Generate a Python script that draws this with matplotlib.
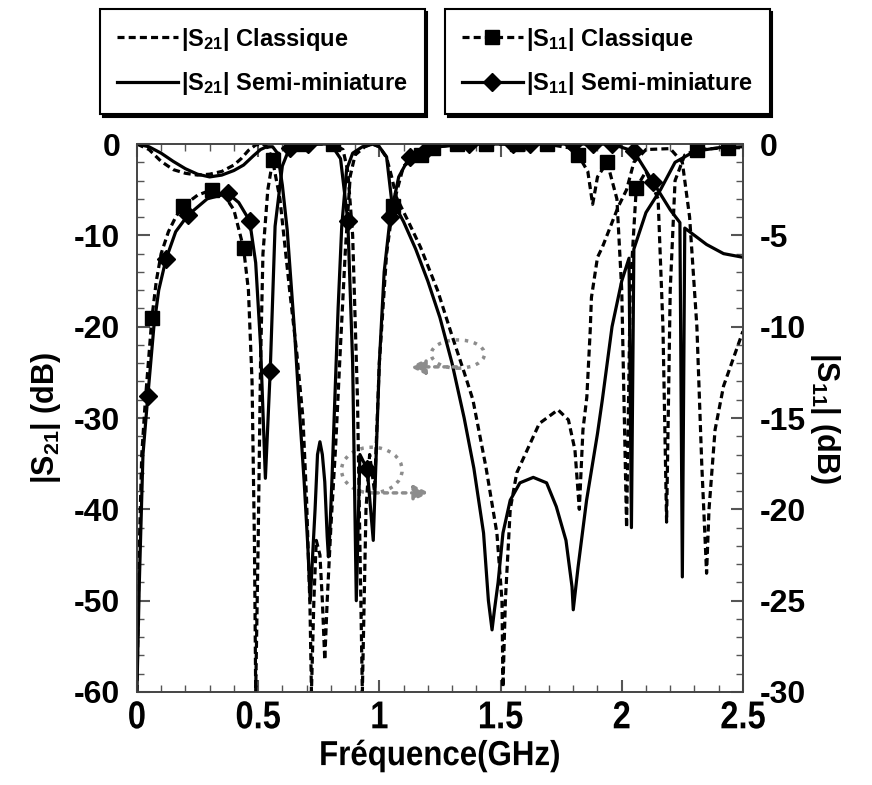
import matplotlib
matplotlib.use('Agg')
import numpy as np
import matplotlib.pyplot as plt
from matplotlib.patches import Ellipse
from matplotlib.patheffects import AbstractPathEffect
from matplotlib.transforms import Affine2D

plt.rcParams['font.family'] = ['Liberation Sans', 'DejaVu Sans']
plt.rcParams['font.weight'] = 'bold'
plt.rcParams['axes.labelweight'] = 'bold'
plt.rcParams['axes.unicode_minus'] = False
plt.rcParams['mathtext.fontset'] = 'custom'
plt.rcParams['mathtext.rm'] = 'Liberation Sans:bold'
plt.rcParams['mathtext.bf'] = 'Liberation Sans:bold'
plt.rcParams['mathtext.default'] = 'bf'


class Etroit(AbstractPathEffect):
    # compresse le texte horizontalement (police "narrow" de l'original)
    def __init__(self, sx=0.85):
        super().__init__()
        self.sx = sx

    def draw_path(self, renderer, gc, tpath, affine, rgbFace=None):
        bb = tpath.get_extents(affine)
        cx = 0.5 * (bb.x0 + bb.x1)
        aff = affine + Affine2D().translate(-cx, 0).scale(self.sx, 1).translate(cx, 0)
        renderer.draw_path(gc, tpath, aff, rgbFace)


# ---- |S21| (axe gauche, dB) ----
s21_cl_f = [0.0, 0.05, 0.10, 0.15, 0.20, 0.25, 0.30, 0.35, 0.40, 0.43, 0.46, 0.49, 0.52, 0.54, 0.56,
            0.59, 0.63, 0.66, 0.685, 0.70, 0.714, 0.72, 0.73, 0.74, 0.755, 0.765, 0.775, 0.785, 0.80,
            0.82, 0.84, 0.86, 0.88, 0.90, 0.94, 0.97, 1.00, 1.03, 1.05, 1.07, 1.12, 1.17, 1.24, 1.30,
            1.35, 1.386, 1.44, 1.485, 1.506, 1.51, 1.52, 1.54, 1.567, 1.61, 1.66, 1.737, 1.78, 1.807,
            1.825, 1.84, 1.856, 1.87, 1.875, 1.90, 1.92, 1.985, 2.02, 2.05, 2.10, 2.20, 2.25, 2.28,
            2.31, 2.33, 2.35, 2.36, 2.385, 2.42, 2.46, 2.50]
s21_cl_db = [0, -0.6, -1.9, -2.8, -3.2, -3.4, -3.3, -3.0, -2.3, -1.6, -0.7, -0.1, 0, -0.4, -1.8,
             -6, -16, -23, -30, -39, -50.7, -60, -50, -43.4, -45, -50, -56.5, -50, -42,
             -33, -22, -11.6, -3.5, -1.2, -0.3, 0, -0.3, -1.5, -3.5, -5.8, -8.5, -11.3, -16, -21,
             -25, -28, -35.4, -42.6, -50, -59.5, -50, -40, -36, -33.5, -30.6, -29.1, -30.2, -33.5,
             -40, -31.3, -27.7, -20.4, -16.8, -12.4, -11.3, -6.9, -5, -2, -0.6, -0.5, -2, -8,
             -20, -35, -47, -40, -31.3, -26.5, -23.5, -20.5]

s21_sm_f = [0.0, 0.05, 0.10, 0.15, 0.20, 0.25, 0.30, 0.35, 0.40, 0.44, 0.48, 0.51, 0.535, 0.56, 0.58,
            0.60, 0.62, 0.65, 0.67, 0.69, 0.705, 0.715, 0.725, 0.735, 0.745, 0.755, 0.765, 0.775,
            0.785, 0.79, 0.795, 0.805, 0.815, 0.83, 0.845, 0.865, 0.89, 0.93, 0.975, 1.00, 1.03,
            1.05, 1.10, 1.15, 1.20, 1.25, 1.30, 1.35, 1.39, 1.43, 1.45, 1.465, 1.475, 1.49, 1.51,
            1.54, 1.58, 1.635, 1.69, 1.73, 1.77, 1.795, 1.80, 1.82, 1.855, 1.90, 1.92, 1.96, 2.00,
            2.03, 2.04, 2.05, 2.10, 2.16, 2.22, 2.30, 2.40, 2.50]
s21_sm_db = [0, -0.3, -1.0, -1.9, -2.7, -3.3, -3.6, -3.4, -2.9, -2.3, -1.3, -0.6, -0.3, -0.3, -1.0,
             -4.5, -9.4, -20.4, -29, -37, -44, -50, -45, -40, -34, -32.6, -34, -37,
             -43, -45.2, -43, -36.5, -29, -18, -9, -2.8, -1.0, -0.3, 0, -0.3, -1.4,
             -6, -8.5, -11.5, -15, -19, -24, -30, -35.5, -42.6, -50, -53.2, -51, -48, -42.6,
             -39, -37.1, -36.5, -37.1, -39.7, -43.4, -48.5, -51, -46.3, -39, -31.7, -28, -20, -15,
             -12.5, -42, -11.5, -7.5, -5, -2, -0.8, -0.4, -0.3]

# ---- |S11| (axe droit, dB) ----
s11_cl_f = [0.0, 0.01, 0.02, 0.035, 0.05, 0.062, 0.08, 0.10, 0.13, 0.16, 0.19, 0.25, 0.31, 0.36,
            0.40, 0.44, 0.46, 0.475, 0.485, 0.49, 0.50, 0.51, 0.52, 0.54, 0.56, 0.60, 0.685, 0.81,
            0.85, 0.87, 0.89, 0.91, 0.93, 0.945, 0.96, 0.98, 1.00, 1.03, 1.056, 1.10, 1.17, 1.22,
            1.32, 1.44, 1.57, 1.69, 1.78, 1.82, 1.86, 1.88, 1.90, 1.94, 1.98, 2.00, 2.02, 2.035,
            2.06, 2.10, 2.15, 2.17, 2.185, 2.20, 2.22, 2.26, 2.31, 2.44, 2.50]
s11_cl_db = [-30, -22, -17, -14, -11.5, -9.5, -7.5, -6, -4.8, -4, -3.4, -2.8, -2.5, -2.8,
             -3.6, -5.7, -8, -13, -22, -30, -22, -12, -6, -2.5, -0.9, -0.3, 0, 0,
             -0.3, -1.5, -5, -14, -30, -20, -17, -19, -12, -6, -3.4, -1.2, -0.6, -0.2,
             0, 0, 0, 0, -0.2, -0.6, -1.5, -3.3, -1.8, -1.0, -3, -8, -21, -8,
             -2.4, -1.5, -3, -10, -20.7, -8, -2, -0.6, -0.3, -0.2, -0.2]
s11_cl_mk = [0.062, 0.19, 0.31, 0.44, 0.56, 0.685, 0.81, 1.056, 1.17, 1.22, 1.32, 1.44, 1.57,
             1.69, 1.82, 1.94, 2.06, 2.31, 2.44]

s11_sm_f = [0.0, 0.01, 0.025, 0.045, 0.07, 0.09, 0.12, 0.16, 0.21, 0.29, 0.375, 0.42, 0.465,
            0.49, 0.51, 0.53, 0.55, 0.57, 0.60, 0.63, 0.705, 0.80, 0.84, 0.87, 0.89, 0.905, 0.92,
            0.95, 0.975, 1.00, 1.02, 1.045, 1.08, 1.125, 1.20, 1.37, 1.55, 1.62, 1.80, 1.88,
            1.96, 2.05, 2.13, 2.20, 2.24, 2.25, 2.26, 2.35, 2.42, 2.50]
s11_sm_db = [-30, -24, -17, -13.8, -10, -8, -6.3, -4.8, -3.9, -3.0, -2.7, -3.2, -4.2,
             -6.5, -11, -18.3, -12.4, -4.5, -1.2, -0.2, 0, 0, -0.8, -4.2, -12, -25, -17,
             -17.8, -21.7, -12, -7, -4, -1.8, -0.7, -0.2, 0, 0, 0, 0, 0,
             0, -0.4, -2.1, -3.6, -4.3, -23.7, -4.6, -5.5, -6.0, -6.2]
s11_sm_mk = [0.045, 0.12, 0.21, 0.375, 0.465, 0.55, 0.63, 0.705, 0.87, 0.95, 1.045, 1.125, 1.20,
             1.37, 1.55, 1.62, 1.80, 1.88, 1.96, 2.05, 2.13]

fig = plt.figure(figsize=(8.72, 7.85), dpi=100)
ax = fig.add_axes([0.157, 0.1185, 0.695, 0.698])
ax2 = ax.twinx()

lw = 2.3
l1, = ax.plot(s21_cl_f, s21_cl_db, color='black', lw=lw, ls=(0, (2.2, 1.3)))
l2, = ax.plot(s21_sm_f, s21_sm_db, color='black', lw=lw)
l3, = ax2.plot(s11_cl_f, s11_cl_db, color='black', lw=lw, ls=(0, (2.2, 1.3)),
               marker='s', ms=10, markevery=list(np.isin(s11_cl_f, s11_cl_mk)))
l4, = ax2.plot(s11_sm_f, s11_sm_db, color='black', lw=lw,
               marker='D', ms=9.5, markevery=list(np.isin(s11_sm_f, s11_sm_mk)))

ax.set_xlim(0, 2.5)
ax.set_ylim(-60, 0)
ax2.set_ylim(-30, 0)
ax.set_xticks(np.arange(0, 2.51, 0.5))
ax.set_xticklabels(['0', '0.5', '1', '1.5', '2', '2.5'])
ax.set_xticks(np.arange(0, 2.51, 0.1), minor=True)
ax.set_yticks(np.arange(-60, 1, 10))
ax.set_yticks(np.arange(-60, 1, 2), minor=True)
ax2.set_yticks(np.arange(-30, 1, 5))
ax2.set_yticks(np.arange(-30, 1, 1), minor=True)

ax.tick_params(which='both', direction='in', top=True, color='#555555')
ax.tick_params(which='major', length=9, width=1.5)
ax.tick_params(which='minor', length=5, width=1)
ax2.tick_params(which='both', direction='in', color='#555555')
ax2.tick_params(which='major', length=9, width=1.5)
ax2.tick_params(which='minor', length=5, width=1)
ax.tick_params(axis='y', labelsize=23, pad=12)
ax2.tick_params(axis='y', labelsize=23, pad=12)
ax.tick_params(axis='x', labelsize=28, pad=6)
for lab in ax.get_xticklabels():
    lab.set_path_effects([Etroit(0.84)])
for a in (ax, ax2):
    for s in a.spines.values():
        s.set_color('#444444')
        s.set_linewidth(1.2)

ax.set_xlabel('Fréquence(GHz)', fontsize=25, labelpad=2, path_effects=[Etroit(0.9)])
ax.set_ylabel('|S$_{21}$| (dB)', fontsize=22, labelpad=8)
ax2.set_ylabel('|S$_{11}$| (dB)', fontsize=22, rotation=-90, labelpad=26)

# annotations grises (ellipses + flèches)
gris = '#8c8c8c'
ax.add_patch(Ellipse((1.324, -23.0), 0.22, 3.1, fill=False, ec=gris, lw=2.5, ls=':'))
ax.annotate('', xy=(1.115, -24.4), xytext=(1.33, -24.4),
            arrowprops=dict(arrowstyle='-|>', color=gris, lw=2.5, ls=':', mutation_scale=22))
ax.add_patch(Ellipse((0.969, -35.7), 0.25, 5.0, fill=False, ec=gris, lw=2.5, ls=':'))
ax.annotate('', xy=(1.217, -38.2), xytext=(0.97, -38.2),
            arrowprops=dict(arrowstyle='-|>', color=gris, lw=2.5, ls=':', mutation_scale=22))

leg_kw = dict(frameon=True, fancybox=False, edgecolor='black', framealpha=1,
              shadow={'color': 'black', 'alpha': 1}, fontsize=17, handlelength=2.6,
              borderpad=0.7, labelspacing=0.75, handletextpad=0.15, borderaxespad=0)
leg1 = fig.legend([l1, l2], ['|S$_{21}$| Classique', '|S$_{21}$| Semi-miniature'],
                  loc='upper left', bbox_to_anchor=(100 / 872, 1 - 9 / 785), **leg_kw)
leg2 = fig.legend([l3, l4], ['|S$_{11}$| Classique', '|S$_{11}$| Semi-miniature'],
                  loc='upper left', bbox_to_anchor=(445 / 872, 1 - 9 / 785), **leg_kw)
for leg in (leg1, leg2):
    leg.get_frame().set_linewidth(1.5)

fig.savefig('out.png', dpi=100)
